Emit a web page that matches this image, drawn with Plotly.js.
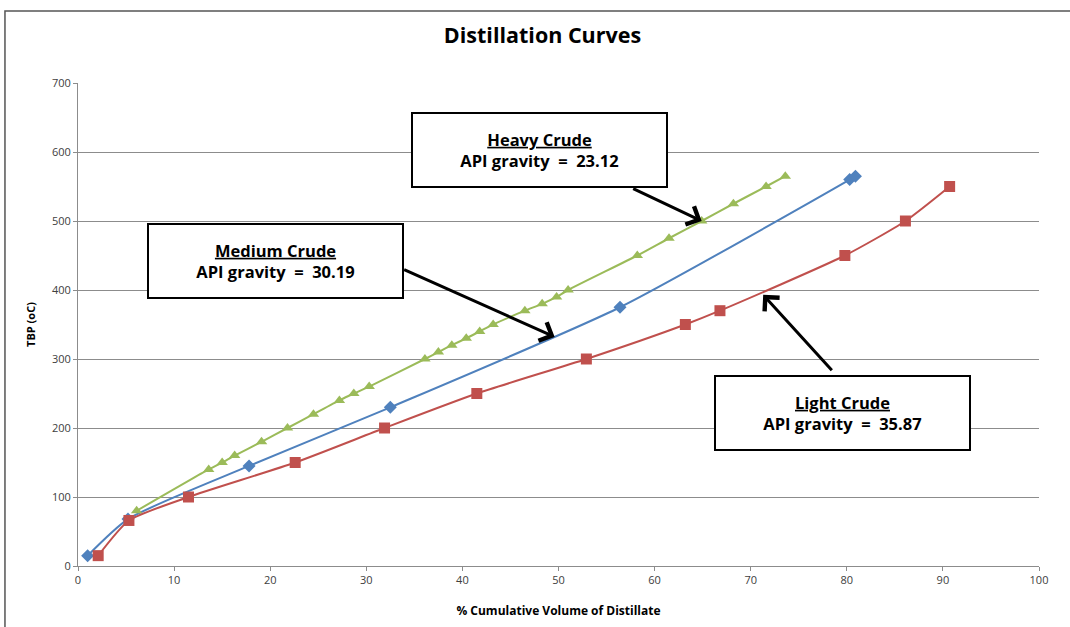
<!DOCTYPE html>
<html>
<head>
<meta charset="utf-8">
<script src="https://cdn.plot.ly/plotly-3.0.1.min.js"></script>
<style>html,body{margin:0;padding:0;background:#fff;}#chart{width:1070px;height:627px;}</style>
</head>
<body>
<div id="chart"></div>
<script>
// Light Crude (API 35.87)
const lightX = [2.1, 5.3, 11.5, 22.6, 31.9, 41.5, 52.9, 63.2, 66.8, 79.8, 86.1, 90.7];
const lightY = [15, 66, 100, 150, 200, 250, 300, 350, 370, 450, 500, 550];
// Medium Crude (API 30.19)
const mediumX = [1.0, 5.2, 17.8, 32.5, 56.4, 80.3, 80.9];
const mediumY = [15, 68, 145, 230, 375, 560, 565];
// Heavy Crude (API 23.12)
const heavyX = [6.1, 13.6, 15.0, 16.3, 19.1, 21.8, 24.5, 27.2, 28.7, 30.3, 36.1, 37.5, 38.9, 40.4, 41.8, 43.2, 46.5, 48.3, 49.8, 51.0, 58.2, 61.5, 64.9, 68.2, 71.6, 73.6];
const heavyY = [80, 140, 150, 160, 180, 200, 220, 240, 250, 260, 300, 310, 320, 330, 340, 350, 370, 380, 390, 400, 450, 475, 500, 525, 550, 565];

const xTicks = [0, 10, 20, 30, 40, 50, 60, 70, 80, 90, 100];
const yTicks = [0, 100, 200, 300, 400, 500, 600, 700];

const titleText = "Distillation Curves";
const xTitle = "% Cumulative Volume of Distillate";
const yTitle = "TBP (oC)";

const boxFont = {family: "Open Sans, sans-serif", size: 16.5, color: "#000"};

const traces = [
  {x: mediumX, y: mediumY, type: "scatter", mode: "lines+markers", name: "Medium Crude",
   line: {color: "#4F81BD", width: 2, shape: "spline", smoothing: 0.6},
   marker: {symbol: "diamond", size: 10, color: "#4F81BD"}},
  {x: lightX, y: lightY, type: "scatter", mode: "lines+markers", name: "Light Crude",
   line: {color: "#C0504D", width: 2, shape: "spline", smoothing: 0.6},
   marker: {symbol: "square", size: 11, color: "#C0504D"}},
  {x: heavyX, y: heavyY, type: "scatter", mode: "lines+markers", name: "Heavy Crude",
   line: {color: "#9BBB59", width: 2, shape: "spline", smoothing: 0.6},
   marker: {symbol: "triangle-up", size: 10, color: "#9BBB59"}}
];

function box(x, y, name, api) {
  return {xref: "x", yref: "y", x: x, y: y, showarrow: false,
    text: "<b><u>" + name + "</u></b><br><b>API gravity  =  " + api + "</b>",
    font: boxFont, align: "center", bgcolor: "#fff", bordercolor: "#000", borderwidth: 2,
    width: 251, height: 70, valign: "middle"};
}
function arrow(x, y, ax, ay) {
  return {xref: "x", yref: "y", x: x, y: y, ax: ax, ay: ay, text: "", showarrow: true,
    arrowhead: 4, arrowsize: 1.3, arrowwidth: 3, arrowcolor: "#000", standoff: 0};
}

const layout = {
  width: 1070, height: 627,
  margin: {l: 78, r: 31, t: 83, b: 61},
  paper_bgcolor: "#fff", plot_bgcolor: "#fff",
  showlegend: false,
  font: {family: "Open Sans, sans-serif", color: "#404040"},
  title: {text: "<b>" + titleText + "</b>", x: 0.507, xref: "container", xanchor: "center",
          y: 0.943, yref: "container", yanchor: "middle",
          font: {family: "Open Sans, sans-serif", size: 21.5, color: "#000"}},
  xaxis: {range: [0, 100], tickvals: xTicks, ticktext: xTicks.map(String),
          showgrid: false, zeroline: false, showline: true, linecolor: "#8c8c8c", linewidth: 1,
          ticks: "outside", ticklen: 4, tickcolor: "#8c8c8c",
          tickfont: {size: 11, color: "#404040"},
          title: {text: "<b>" + xTitle + "</b>", font: {size: 12, color: "#000"}, standoff: 20}},
  yaxis: {range: [0, 700], tickvals: yTicks, ticktext: yTicks.map(String),
          showgrid: true, gridcolor: "#8c8c8c", gridwidth: 1, zeroline: false,
          showline: true, linecolor: "#8c8c8c", linewidth: 1,
          ticks: "outside", ticklen: 4, tickcolor: "#8c8c8c",
          tickfont: {size: 11, color: "#404040"},
          title: {text: "<b>" + yTitle + "</b>", font: {size: 11, color: "#000"}, standoff: 14}},
  shapes: [
    {type: "rect", xref: "paper", yref: "paper", x0: -0.076, x1: 1.2, y0: -0.3, y1: 1.149,
     line: {color: "#555", width: 1.5}, fillcolor: "rgba(0,0,0,0)"}
  ],
  annotations: [
    arrow(64.9, 500, -70, -33),
    arrow(49.6, 332, -152, -68),
    arrow(71.3, 393, 70, 77),
    box(48.0, 603, "Heavy Crude", "23.12"),
    box(20.5, 442, "Medium Crude", "30.19"),
    box(79.6, 222, "Light Crude", "35.87")
  ]
};

Plotly.newPlot("chart", traces, layout, {displayModeBar: false, staticPlot: true});
</script>
</body>
</html>
